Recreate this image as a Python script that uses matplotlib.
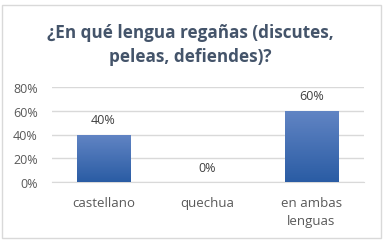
import matplotlib
matplotlib.use("Agg")
import matplotlib.pyplot as plt
import numpy as np
from matplotlib.patches import Rectangle
from matplotlib.colors import LinearSegmentedColormap

categories = ["castellano", "quechua", "en ambas\nlenguas"]
values = [0.40, 0.0, 0.60]
value_labels = ["40%", "0%", "60%"]
yticks = [0, 0.2, 0.4, 0.6, 0.8]
ytick_labels = ["0%", "20%", "40%", "60%", "80%"]
title = "¿En qué lengua regañas (discutes,\npeleas, defiendes)?"

W, H = 387, 253
fig = plt.figure(figsize=(W/100, H/100), dpi=100)
fig.patch.set_facecolor("white")
plt.rcParams['font.family'] = ['Open Sans', 'DejaVu Sans']

# outer border
fig.add_artist(Rectangle((2/W, 1 - 239/H), 379/W, 233/H, transform=fig.transFigure,
                         fill=False, edgecolor="#D9D9D9", lw=1))

ax = fig.add_axes([51.5/W, 1 - 183/H, 312/W, 95/H])
x = np.arange(len(categories))
bars = ax.bar(x, values, width=0.51, color="none", edgecolor="none", zorder=3)
cmap = LinearSegmentedColormap.from_list("g", ["#2A5CA4", "#6285C4"])
grad = np.linspace(0, 1, 256).reshape(-1, 1)
for b in bars:
    if b.get_height() > 0:
        x0, y0 = b.get_x(), b.get_y()
        im = ax.imshow(grad, extent=[x0, x0 + b.get_width(), y0, y0 + b.get_height()],
                       origin="lower", cmap=cmap, aspect="auto", zorder=3)
        im.set_clip_path(b)
for xi, v, lab in zip(x, values, value_labels):
    ax.annotate(lab, (xi, v), xytext=(0, 6), textcoords="offset points",
                ha="center", va="bottom", fontsize=9, color="#404040")

ax.set_xlim(-0.5, 2.5)
ax.set_ylim(0, 0.8)
ax.set_yticks(yticks)
ax.set_yticklabels(ytick_labels, fontsize=9, color="#595959")
ax.set_xticks(x)
ax.set_xticklabels(categories, fontsize=9.5, color="#595959", linespacing=1.5)
ax.tick_params(length=0, pad=10)
ax.tick_params(axis="x", pad=10)
ax.grid(axis="y", color="#D9D9D9", lw=1, zorder=0)
for s in ["top", "right", "left"]:
    ax.spines[s].set_visible(False)
ax.spines["bottom"].set_color("#D9D9D9")
ax.set_facecolor("none")

fig.text(190/W, 1 - 45/H, title, ha="center", va="center", fontsize=12.3,
         fontweight="bold", color="#44546A", linespacing=1.45)

fig.savefig("out.png", dpi=100)
